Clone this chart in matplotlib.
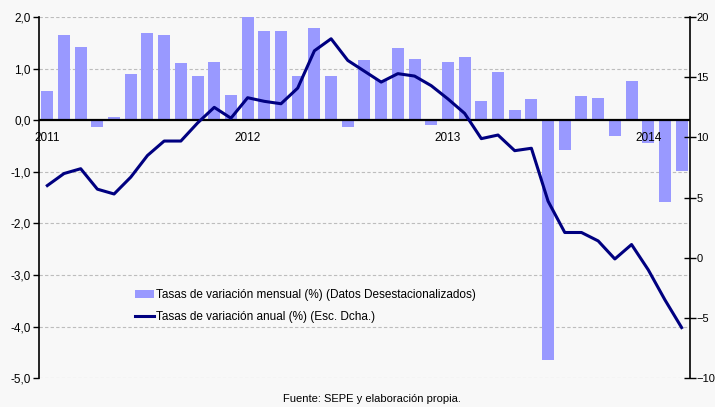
import matplotlib
matplotlib.use("Agg")
import matplotlib.pyplot as plt
import numpy as np

plt.rcParams['font.family'] = ['Liberation Sans', 'DejaVu Sans']

# Jan 2011 - Mar 2014
meses = np.arange(39)
mensual = [0.57, 1.65, 1.42, -0.14, 0.07, 0.89, 1.70, 1.65, 1.11, 0.86,
           1.13, 0.48, 2.02, 1.74, 1.74, 0.86, 1.79, 0.86, -0.14, 1.16,
           0.78, 1.41, 1.18, -0.10, 1.13, 1.22, 0.37, 0.93, 0.19, 0.41,
           -4.64, -0.57, 0.47, 0.44, -0.30, 0.77, -0.45, -1.59, -0.99]
anual = [6.0, 7.0, 7.4, 5.7, 5.3, 6.7, 8.5, 9.7, 9.7, 11.2,
         12.5, 11.6, 13.3, 13.0, 12.8, 14.1, 17.2, 18.2, 16.4, 15.5,
         14.6, 15.3, 15.1, 14.3, 13.2, 12.0, 9.9, 10.2, 8.9, 9.1,
         4.7, 2.1, 2.1, 1.4, -0.1, 1.1, -1.0, -3.5, -5.8]
anios = ['2011', '2012', '2013', '2014']
pos_anios = [0, 12, 24, 36]

bg = '#f8f8f8'
fig = plt.figure(figsize=(7.15, 4.07), dpi=100, facecolor=bg)
ax = fig.add_axes([0.0545, 0.071, 0.9105, 0.887])
ax.set_facecolor(bg)

ax.bar(meses, mensual, width=0.72, color='#9999ff', zorder=2,
       label='Tasas de variación mensual (%) (Datos Desestacionalizados)')
ax.set_ylim(-5, 2)
ax.set_xlim(-0.5, 38.5)
ax.set_yticks(np.arange(-5, 2.1, 1))
ax.set_yticklabels([f'{v:.1f}'.replace('.', ',') for v in np.arange(-5, 2.1, 1)])
for v in np.arange(-5, 2.1, 1):
    if v != 0:
        ax.axhline(v, color='#bdbdbd', lw=0.8, ls=(0, (3, 2)), zorder=1)
ax.axhline(0, color='black', lw=1.6, zorder=3)
ax.set_xticks([])
for p, a in zip(pos_anios, anios):
    ax.text(p, -0.22, a, ha='center', va='top', fontsize=8.5, zorder=5)

for s in ['top', 'bottom']:
    ax.spines[s].set_visible(False)
ax.spines['left'].set_linewidth(1.2)
ax.spines['right'].set_visible(False)
ax.tick_params(axis='y', labelsize=8.5, length=4, width=1, pad=2)

ax2 = ax.twinx()
ax2.plot(meses, anual, color='#000080', lw=2.2, zorder=4,
         label='Tasas de variación anual (%) (Esc. Dcha.)')
ax2.set_ylim(-10, 20)
ax2.set_yticks(np.arange(-10, 21, 5))
for s in ['top', 'bottom', 'left']:
    ax2.spines[s].set_visible(False)
ax2.spines['right'].set_linewidth(1.2)
ax2.tick_params(axis='y', labelsize=8, direction='inout', length=8, width=1, pad=0.5)

h1, l1 = ax.get_legend_handles_labels()
h2, l2 = ax2.get_legend_handles_labels()
ax2.legend(h1 + h2, l1 + l2, loc='upper left', bbox_to_anchor=(0.14, 0.26),
           frameon=False, fontsize=8.5, handlelength=1.6, handletextpad=0.2,
           labelspacing=0.85, borderaxespad=0)

fig.text(0.52, 0.008, 'Fuente: SEPE y elaboración propia.', ha='center',
         va='bottom', fontsize=8)

fig.savefig('out.png', dpi=100, facecolor=bg)
